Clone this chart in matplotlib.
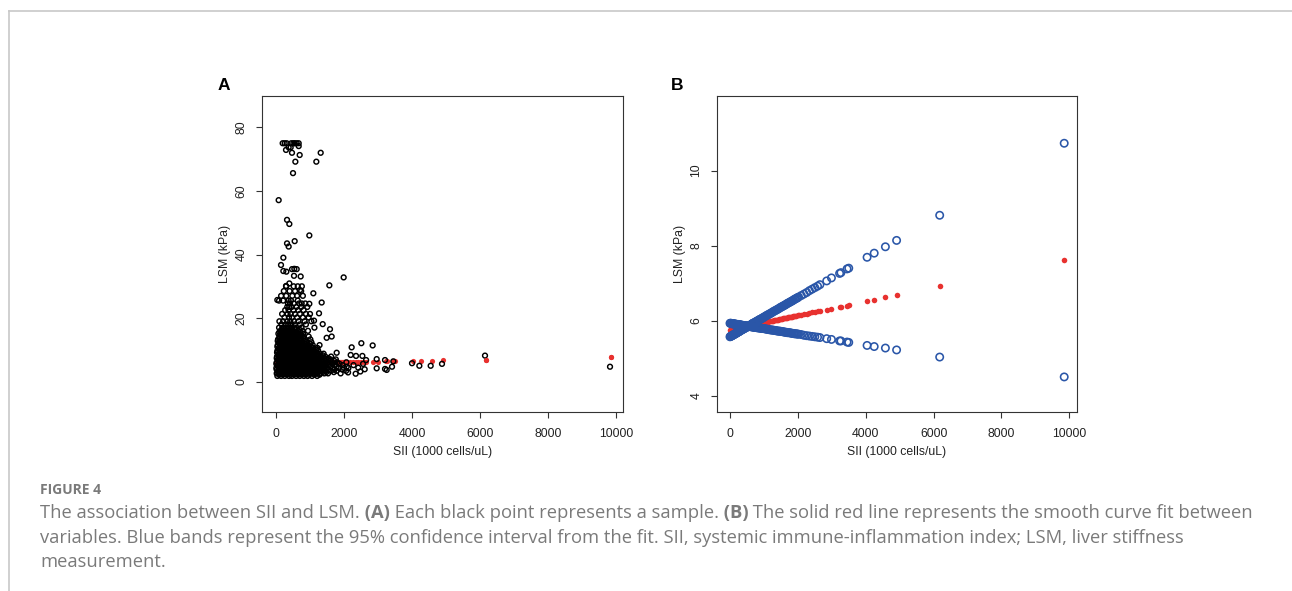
#!/usr/bin/env python3

# figure 4: SII vs LSM, scatter (A) and smooth fit with 95% CI (B)

import matplotlib
matplotlib.use('Agg')
import matplotlib.pyplot as plt
from matplotlib.lines import Line2D

# colours
RED = '#e8312f'
BLUE = '#2a56a8'
CAPTION_GREY = '#7a7a7a'

# ---------------- data ---------------- #

# fitted curve and 95% CI, one value per SII level
fit_sii = [0, 30, 60, 90, 120, 150, 180, 210, 240, 270, 300, 340, 380, 420, 460, 500,
           540, 580, 620, 660, 700, 750, 800, 850, 900, 950, 1000, 1060, 1120, 1180,
           1240, 1300, 1360, 1420, 1480, 1540, 1600, 1660, 1720, 1780, 1840, 1900,
           1960, 2020, 2100, 2180, 2260, 2340, 2420, 2500, 2580, 2650,
           2850, 2990, 3230, 3270, 3450, 3500, 4040, 4250, 4580, 4910, 6180, 9850]
fit_lsm = [5.76, 5.77, 5.77, 5.78, 5.78, 5.79, 5.79, 5.80, 5.81, 5.81, 5.82, 5.82, 5.83, 5.84, 5.85, 5.86,
           5.86, 5.87, 5.88, 5.89, 5.89, 5.90, 5.91, 5.92, 5.93, 5.94, 5.95, 5.96, 5.97, 5.98,
           6.00, 6.01, 6.02, 6.03, 6.04, 6.05, 6.06, 6.08, 6.09, 6.10, 6.11, 6.12,
           6.13, 6.14, 6.16, 6.17, 6.19, 6.20, 6.22, 6.24, 6.25, 6.26,
           6.29, 6.32, 6.36, 6.37, 6.40, 6.41, 6.52, 6.55, 6.62, 6.68, 6.93, 7.63]
ci_upper = [5.57, 5.59, 5.60, 5.62, 5.63, 5.65, 5.66, 5.68, 5.70, 5.71, 5.73, 5.75, 5.77, 5.79, 5.81, 5.83,
            5.85, 5.87, 5.89, 5.92, 5.94, 5.96, 5.99, 6.02, 6.04, 6.07, 6.09, 6.13, 6.16, 6.19,
            6.22, 6.25, 6.28, 6.31, 6.35, 6.38, 6.41, 6.44, 6.47, 6.50, 6.53, 6.57,
            6.60, 6.63, 6.67, 6.71, 6.75, 6.80, 6.84, 6.88, 6.92, 6.96,
            7.06, 7.14, 7.26, 7.28, 7.38, 7.40, 7.69, 7.80, 7.97, 8.14, 8.81, 10.73]
ci_lower = [5.93, 5.93, 5.92, 5.92, 5.91, 5.91, 5.90, 5.90, 5.90, 5.89, 5.89, 5.88, 5.87, 5.87, 5.86, 5.86,
            5.85, 5.85, 5.84, 5.83, 5.83, 5.82, 5.81, 5.81, 5.80, 5.79, 5.79, 5.78, 5.77, 5.76,
            5.75, 5.74, 5.73, 5.72, 5.72, 5.71, 5.70, 5.69, 5.68, 5.67, 5.66, 5.65,
            5.65, 5.64, 5.63, 5.61, 5.60, 5.59, 5.58, 5.57, 5.56, 5.55,
            5.52, 5.50, 5.46, 5.46, 5.43, 5.42, 5.34, 5.31, 5.27, 5.22, 5.03, 4.50]

# more SII levels inside the dense part (0-2000), where the bands look solid
mid_sii = [15, 45, 75, 105, 135, 165, 195, 225, 255, 285, 320, 360, 400, 440, 480, 520,
           560, 600, 640, 680, 725, 775, 825, 875, 925, 975, 1030, 1090, 1150, 1210,
           1270, 1330, 1390, 1450, 1510, 1570, 1630, 1690, 1750, 1810, 1870, 1930, 1990]
mid_lsm = [5.76, 5.77, 5.77, 5.78, 5.79, 5.79, 5.80, 5.80, 5.81, 5.81, 5.82, 5.83, 5.84, 5.84, 5.85, 5.86,
           5.87, 5.87, 5.88, 5.89, 5.90, 5.91, 5.92, 5.93, 5.94, 5.95, 5.96, 5.97, 5.98, 5.99,
           6.00, 6.01, 6.02, 6.04, 6.05, 6.06, 6.07, 6.08, 6.09, 6.10, 6.12, 6.13, 6.14]
mid_upper = [5.58, 5.59, 5.61, 5.62, 5.64, 5.66, 5.67, 5.69, 5.70, 5.72, 5.74, 5.76, 5.78, 5.80, 5.82, 5.84,
             5.86, 5.88, 5.91, 5.93, 5.95, 5.98, 6.00, 6.03, 6.05, 6.08, 6.11, 6.14, 6.17, 6.20,
             6.24, 6.27, 6.30, 6.33, 6.36, 6.39, 6.42, 6.46, 6.49, 6.52, 6.55, 6.58, 6.61]
mid_lower = [5.93, 5.92, 5.92, 5.91, 5.91, 5.91, 5.90, 5.90, 5.89, 5.89, 5.88, 5.88, 5.87, 5.87, 5.86, 5.85,
             5.85, 5.84, 5.84, 5.83, 5.82, 5.82, 5.81, 5.80, 5.80, 5.79, 5.78, 5.77, 5.76, 5.75,
             5.75, 5.74, 5.73, 5.72, 5.71, 5.70, 5.69, 5.68, 5.68, 5.67, 5.66, 5.65, 5.64]

# samples in the dense cloud, read row by row (lsm level, sii values)
blob_rows = [
    (1.8, [40, 150, 260, 380, 470, 590, 700, 820, 930, 1060, 1210]),
    (2.2, [90, 200, 320, 430, 530, 650, 760, 870, 980, 1130, 1280]),
    (2.6, [20, 110, 210, 300, 400, 500, 610, 720, 810, 900, 1000, 1100, 1190, 1300, 1420, 1530, 1900]),
    (3.0, [60, 160, 250, 350, 450, 560, 660, 760, 860, 950, 1050, 1140, 1240, 1360, 1480, 1700]),
    (3.4, [60, 160, 250, 350, 450, 540, 640, 740, 850, 950, 1050, 1150, 1250, 1340, 1460, 1620, 1780, 2060]),
    (3.8, [20, 110, 200, 300, 400, 500, 590, 690, 790, 900, 1000, 1100, 1200, 1300, 1410, 1540, 1720, 1950]),
    (4.3, [10, 100, 200, 290, 390, 490, 580, 690, 790, 880, 990, 1090, 1190, 1290, 1390, 1510, 1680, 1850, 2000, 2130]),
    (4.7, [60, 150, 250, 340, 440, 530, 630, 740, 840, 930, 1040, 1140, 1240, 1340, 1450, 1600, 1780, 2080]),
    (5.2, [50, 140, 240, 340, 430, 530, 630, 730, 830, 920, 1020, 1130, 1230, 1330, 1440, 1570, 1720, 1960, 2280]),
    (5.6, [10, 100, 190, 290, 380, 480, 580, 680, 780, 880, 970, 1080, 1180, 1280, 1390, 1500, 1650, 1870]),
    (6.1, [20, 110, 200, 300, 390, 480, 580, 680, 770, 870, 970, 1070, 1170, 1280, 1400, 1530, 1650, 1800, 2070]),
    (6.5, [70, 160, 250, 340, 430, 530, 630, 730, 820, 920, 1020, 1120, 1230, 1340, 1460, 1590, 1720]),
    (7.0, [60, 150, 250, 350, 440, 530, 630, 720, 820, 920, 1020, 1120, 1220, 1350, 1480, 1600, 1760]),
    (7.4, [20, 110, 200, 300, 400, 490, 580, 680, 770, 870, 970, 1070, 1170, 1290, 1420, 1540]),
    (7.9, [30, 120, 210, 300, 400, 490, 590, 680, 780, 880, 980, 1080, 1200, 1310, 1450, 1620]),
    (8.3, [80, 170, 260, 350, 440, 540, 640, 730, 830, 930, 1030, 1130, 1250, 1370]),
    (8.8, [70, 160, 260, 350, 450, 540, 640, 740, 830, 930, 1030, 1150, 1290, 1400]),
    (9.2, [30, 120, 210, 300, 400, 490, 590, 690, 790, 880, 980, 1090, 1200]),
    (9.7, [40, 130, 220, 310, 410, 500, 600, 690, 790, 900, 1010, 1120, 1240]),
    (10.1, [90, 180, 270, 360, 460, 550, 650, 740, 840, 950, 1060, 1170]),
    (10.6, [80, 170, 270, 360, 460, 560, 650, 750, 860, 970, 1100, 1220]),
    (11.0, [40, 130, 220, 310, 410, 510, 600, 700, 800, 910, 1030]),
    (11.5, [50, 140, 230, 320, 420, 510, 610, 710, 820, 940, 1080, 1280]),
    (11.9, [100, 190, 280, 370, 470, 560, 660, 760, 880, 1000]),
    (12.4, [90, 180, 280, 370, 470, 570, 670, 780, 900, 1040]),
    (12.8, [50, 140, 230, 320, 420, 510, 610, 720, 840]),
    (13.3, [60, 150, 240, 330, 430, 520, 620, 730, 860, 1010]),
    (13.7, [110, 200, 290, 380, 480, 580, 690, 800]),
    (14.2, [100, 190, 290, 380, 480, 580, 690, 820, 960]),
    (14.7, [140, 230, 330, 420, 520, 620, 740]),
    (15.1, [70, 170, 260, 350, 450, 550, 660, 800]),
    (15.6, [100, 200, 290, 380, 480, 590, 710]),
    (16.0, [130, 220, 320, 410, 510, 640, 780, 940]),
    (16.5, [170, 260, 350, 440, 550, 680]),
    (17.0, [90, 200, 300, 390, 480, 600, 750, 1130]),
    (18.0, [160, 280, 360, 450, 560, 700, 880]),
    (19.0, [100, 210, 330, 420, 530, 660, 840, 1040]),
    (20.2, [250, 380, 470, 620, 790, 960]),
    (21.3, [180, 340, 430, 560, 700, 880, 1000]),
    (22.5, [270, 370, 520, 650, 810]),
    (23.5, [330, 390, 460, 600, 740, 920]),
    (24.6, [350, 410, 520, 680, 860]),
    (25.5, [90, 210, 370, 440, 640]),
    (27.0, [150, 300, 480, 620, 790]),
    (28.5, [230, 400, 560, 740]),
    (30.0, [300, 520, 640, 760]),
]

# scattered samples outside the cloud
out_sii = [196, 255, 314, 450, 510, 550, 608, 667, 667, 372, 431, 294, 470, 696,
           1314, 569, 1186, 500, 78, 324, 392, 980, 549, 324, 372, 216, 147, 216,
           304, 471, 539, 608, 529, 725, 1990, 1569, 1343, 1098, 980, 1265, 1118,
           1373, 1588, 1637, 1490, 2225, 2510, 2843, 2196, 2353, 2540, 2961, 3206,
           2343, 2608, 2961, 3206, 3255, 3412, 3451, 4000, 4216, 4549, 4882, 6147,
           9824, 1784, 2420, 2560, 2650, 2120, 2480, 39, 294, 392, 706, 755]
out_lsm = [75.0, 75.0, 75.0, 75.0, 75.0, 75.0, 75.0, 75.0, 74.1, 73.7, 73.7, 72.9, 72.0, 71.3,
           72.0, 69.2, 69.2, 65.6, 57.1, 50.9, 49.6, 46.0, 44.2, 43.5, 42.5, 39.0, 36.7, 34.8,
           34.6, 35.4, 35.5, 35.4, 33.3, 33.1, 32.8, 30.3, 24.9, 27.8, 24.5, 21.5, 19.2,
           18.1, 16.5, 14.2, 13.8, 10.8, 12.1, 11.4, 8.4, 8.1, 8.1, 7.1, 6.8,
           2.5, 3.9, 4.2, 4.0, 3.7, 4.7, 6.4, 5.8, 5.0, 5.0, 5.6, 8.2,
           4.7, 9.1, 4.4, 5.6, 6.8, 2.9, 3.2, 25.7, 30.1, 30.9, 28.8, 24.6]

sample_sii = [x for lsm, row in blob_rows for x in row] + out_sii
sample_lsm = [lsm for lsm, row in blob_rows for x in row] + out_lsm

band_sii = fit_sii + mid_sii
band_fit = fit_lsm + mid_lsm
band_up = ci_upper + mid_upper
band_lo = ci_lower + mid_lower

x_ticks = [0, 2000, 4000, 6000, 8000, 10000]
a_yticks = [0, 20, 40, 60, 80]
b_yticks = [4, 6, 8, 10]

caption_title = 'FIGURE 4'
caption_lines = [
    [('The association between SII and LSM.', 'normal'), (' (A)', 'bold'),
     (' Each black point represents a sample.', 'normal'), (' (B)', 'bold'),
     (' The solid red line represents the smooth curve fit between', 'normal')],
    [('variables. Blue bands represent the 95% confidence interval from the fit. SII, systemic '
      'immune-inflammation index; LSM, liver stiffness', 'normal')],
    [('measurement.', 'normal')],
]

# ---------------- plot ---------------- #

plt.rcParams['font.family'] = ['Liberation Sans', 'DejaVu Sans']

W, H = 1292, 591
fig = plt.figure(figsize=(W / 100, H / 100), dpi=100)


def px_axes(left, top, right, bottom):
    return fig.add_axes([left / W, 1 - bottom / H, (right - left) / W, (bottom - top) / H])


def style_axes(ax):
    for s in ax.spines.values():
        s.set_color('#333333')
        s.set_linewidth(0.8)
    ax.tick_params(direction='out', length=4.5, width=0.8, color='#333333',
                   labelsize=8.8, labelcolor='#222222', pad=7)
    ax.tick_params(axis='y', labelrotation=90, pad=6)
    for lab in ax.get_yticklabels():
        lab.set_va('center')
    ax.set_xlabel('SII (1000 cells/uL)', fontsize=8.8, color='#222222', labelpad=4)
    ax.set_ylabel('LSM (kPa)', fontsize=8.8, color='#222222', labelpad=3)


# panel A
ax1 = px_axes(262, 96, 623, 412)
ax1.scatter(band_sii, band_fit, s=14, color=RED, linewidths=0, zorder=2)
ax1.scatter(sample_sii, sample_lsm, s=12, facecolors='none', edgecolors='black',
            linewidths=1.05, zorder=3)
ax1.scatter(fit_sii[-2:], fit_lsm[-2:], s=14, color=RED, linewidths=0, zorder=4)
ax1.set_xlim(-412, 10206)
ax1.set_ylim(-9.54, 89.86)
ax1.set_xticks(x_ticks)
ax1.set_yticks(a_yticks)
style_axes(ax1)

# panel B
ax2 = px_axes(717, 96, 1077, 412)
ax2.scatter(band_sii, band_fit, s=16, color=RED, linewidths=0, zorder=2)
ax2.scatter(band_sii, band_up, s=28, facecolors='none', edgecolors=BLUE, linewidths=1.15, zorder=3)
ax2.scatter(band_sii, band_lo, s=28, facecolors='none', edgecolors=BLUE, linewidths=1.15, zorder=3)
ax2.set_xlim(-383, 10227)
ax2.set_ylim(3.565, 11.99)
ax2.set_xticks(x_ticks)
ax2.set_yticks(b_yticks)
style_axes(ax2)

# panel letters
fig.text(224 / W, 1 - 86 / H, 'A', fontsize=12.5, fontweight='bold', ha='center', va='center')
fig.text(677 / W, 1 - 86 / H, 'B', fontsize=12.5, fontweight='bold', ha='center', va='center')

# grey frame lines of the page
fig.add_artist(Line2D([9 / W, 1], [1 - 11 / H, 1 - 11 / H], transform=fig.transFigure,
                      color='#c8c8c8', linewidth=1.2))
fig.add_artist(Line2D([9 / W, 9 / W], [1 - 11 / H, 0], transform=fig.transFigure,
                      color='#c8c8c8', linewidth=1.2))

# caption, pieces chained one after another on each line
cap_ax = fig.add_axes([0, 0, 1, 1])
cap_ax.axis('off')
cap_font = ['Open Sans', 'DejaVu Sans']
cap_size = 13.2

cap_ax.text(40 / W, 1 - 494 / H, caption_title, fontsize=10.0, fontweight='bold',
            color=CAPTION_GREY, family=cap_font, va='baseline', transform=fig.transFigure)
baselines = [518, 543, 567]
for base, pieces in zip(baselines, caption_lines):
    prev = None
    for txt, weight in pieces:
        if prev is None:
            prev = cap_ax.text(40 / W, 1 - base / H, txt, fontsize=cap_size, fontweight=weight,
                               color=CAPTION_GREY, family=cap_font, va='baseline',
                               transform=fig.transFigure)
        else:
            prev = cap_ax.annotate(txt, xy=(1, 0), xycoords=prev, va='bottom', ha='left',
                                   fontsize=cap_size, fontweight=weight,
                                   color=CAPTION_GREY, family=cap_font)

fig.savefig('out.png', dpi=100)
